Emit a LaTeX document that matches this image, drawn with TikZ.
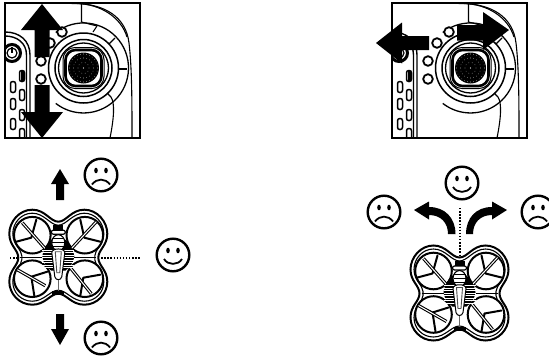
\documentclass[tikz,border=0pt]{standalone}
\usetikzlibrary{calc}
\tikzset{
  x=1pt,y=-1pt,
  ln/.style={line width=1.1pt,black},
  hole/.style={line width=1.8pt,black,fill=white},
  pill/.style={line width=1.5pt,black,rounded corners=2.2pt,fill=white},
  dotline/.style={line width=1.2pt,black,dash pattern=on 1.4pt off 1.7pt},
  face/.style={line width=2.4pt,black,fill=white},
  blk/.style={fill=black,draw=none},
  single/.style={line width=2pt,line cap=round},
  dbl/.style={line width=3.2pt},
  dblin/.style={line width=1pt,white},
  pics/remote/.style={code={
    \begin{scope}
    \clip (0,0) rectangle (135,135);
    % outer casing
    \draw[ln] (38,0) -- (70,0.5) .. controls (100,1) and (121,14) .. (124,40) .. controls (127,65) and (127,100) .. (127,135);
    \draw[ln] (72,0.5) .. controls (95,1) and (116,14) .. (122,34);
    \draw[ln] (76.5,0) -- (76.5,19) -- (92,23);
    % big arc
    \draw[line width=1.3pt] (50.8,29.5) arc[start angle=-128,end angle=128,radius=45];
    \draw[ln] (92,23) -- (88,29);
    \draw[ln] (110,35) -- (104,41);
    \draw[ln] (122,66) -- (113,66);
    \draw[ln] (106,94) -- (102,90);
    \draw[ln] (106,94) .. controls (110,100) and (109,115) .. (105,135);
    % rings
    \draw[line width=1.5pt] (78.5,65) circle[radius=35];
    \draw[line width=1.5pt] (78.5,65) circle[radius=28.5];
    \draw[line width=1.3pt] (78.5,65) circle[radius=25];
    \draw[line width=1pt,fill=white,rounded corners=12pt] (58,44.5) rectangle (99,85.5);
    \draw[line width=2.6pt,fill=white,rounded corners=10pt] (60.5,47) rectangle (96.5,83);
    \fill[black] (78.5,65) circle[radius=15.5];
    \foreach \r/\n in {14/28,10/20,5.5/10}{
      \foreach \k in {1,...,\n}{\fill[white] ($(78.5,65)+({360*\k/\n}:\r)$) circle[radius=0.3];}}
    \fill[white] (78.5,65) circle[radius=0.6];
    % holes
    \draw[hole] (57,29) circle[radius=4.8];
    \draw[hole] (45,40) circle[radius=4.8];
    \draw[hole] (36,58) circle[radius=4.8];
    \draw[hole] (36,76) circle[radius=4.8];
    % power button and panel
    \draw[line width=1.4pt] (0,29) .. controls (15,29) and (25,38) .. (25,52) -- (25,135);
    \draw[line width=1.4pt] (0,33) .. controls (12,33) and (21.5,40) .. (21.5,52) -- (21.5,135);
    \draw[line width=3pt,fill=white] (7,50) circle[radius=8.5];
    \draw[line width=1.2pt] (7,50) circle[radius=5];
    \draw[line width=1.6pt] (7,44) -- (7,50);
    % slots
    \foreach \x/\y in {17/73,17/92,17/112,17/131,8/84,8/101,8/121}{
      \draw[pill] (\x-2.5,\y-5.5) rectangle (\x+2.5,\y+5.5);}
    \fill[black] (15.5,68) rectangle (18.5,78);
    \end{scope}
    \draw[line width=1.1pt] (0,0) rectangle (135,135);
  }},
  pics/frown/.style={code={
    \draw[face] (0,0) circle[radius=16.3];
    \fill (-5,-4.5) ellipse[x radius=1.8,y radius=2.8];
    \fill (5,-4.5) ellipse[x radius=1.8,y radius=2.8];
    \draw[line width=1.8pt] (-9,9.5) .. controls (-4,3) and (4,3) .. (9,9.5);
  }},
  pics/smile/.style={code={
    \draw[face] (0,0) circle[radius=16.3];
    \fill (-5,-4.5) ellipse[x radius=1.8,y radius=2.8];
    \fill (5,-4.5) ellipse[x radius=1.8,y radius=2.8];
    \draw[line width=1.8pt] (-9,4) .. controls (-5,10.5) and (5,10.5) .. (9,4);
  }},
  pics/quad/.style={code={
    \draw[line width=2pt,fill=white]
      (0,-36) .. controls (-8,-36) and (-13,-48) .. (-26,-48) .. controls (-39,-48) and (-49,-36) .. (-49,-24)
      .. controls (-49,-12) and (-40,-8) .. (-40,0) .. controls (-40,8) and (-49,12) .. (-49,24)
      .. controls (-49,36) and (-39,47) .. (-26,47) .. controls (-13,47) and (-8,36) .. (0,36)
      .. controls (8,36) and (13,47) .. (26,47) .. controls (39,47) and (49,36) .. (49,24)
      .. controls (49,12) and (40,8) .. (40,0) .. controls (40,-8) and (49,-12) .. (49,-24)
      .. controls (49,-36) and (39,-48) .. (26,-48) .. controls (13,-48) and (8,-36) .. (0,-36) -- cycle;
    \draw[line width=1.1pt]
      (0,-32.5) .. controls (-8,-32.5) and (-14,-44.5) .. (-26,-44.5) .. controls (-37,-44.5) and (-45.5,-35) .. (-45.5,-24)
      .. controls (-45.5,-13) and (-36.5,-8) .. (-36.5,-2) -- (-36.5,2) .. controls (-36.5,8) and (-45.5,13) .. (-45.5,24)
      .. controls (-45.5,35) and (-37,43.5) .. (-26,43.5) .. controls (-14,43.5) and (-8,32.5) .. (0,32.5)
      .. controls (8,32.5) and (14,43.5) .. (26,43.5) .. controls (37,43.5) and (45.5,35) .. (45.5,24)
      .. controls (45.5,13) and (36.5,8) .. (36.5,2) -- (36.5,-2) .. controls (36.5,-8) and (45.5,-13) .. (45.5,-24)
      .. controls (45.5,-35) and (37,-44.5) .. (26,-44.5) .. controls (14,-44.5) and (8,-32.5) .. (0,-32.5) -- cycle;
    % rotors
    \foreach \cx/\cy in {-26/-22.5,26.5/-22.5,-26/21,26.5/21}{
      \draw[line width=2pt,fill=white] (\cx,\cy) circle[radius=18.3];}
    % blades
    \draw[single] (-27,-20) -- (-22,-38) (-27,-20) -- (-42,-16);
    \draw[dbl] (-36,-35) -- (-13,-9);
    \draw[dblin] (-36,-35) -- (-13,-9);
    \draw[single] (26,-20) -- (22,-38) (26,-20) -- (42,-16);
    \draw[dbl] (38,-36) -- (13,-9);
    \draw[dblin] (38,-36) -- (13,-9);
    \draw[single] (-27,19) -- (-42,12) (-27,19) -- (-24,38) (-27,19) -- (-11,14);
    \draw[dbl] (-41,12) -- (-13,28);
    \draw[dblin] (-41,12) -- (-13,28);
    \draw[single] (25,20) -- (42,17) (25,20) -- (22,38);
    \draw[dbl] (12,10) -- (33,36);
    \draw[dblin] (12,10) -- (33,36);
    % cross line
    \draw[line width=1.2pt] (-38,0) -- (38,0);
    % body
    \fill[black] (-16,-1) .. controls (-15,-10) and (-9,-18) .. (0,-23) .. controls (9,-18) and (15,-10) .. (16,-1)
      .. controls (15,6) and (11,10) .. (7,13) -- (-7,13) .. controls (-11,10) and (-15,6) .. (-16,-1) -- cycle;
    \foreach \k in {-8,-5.5,...,11}{\draw[white,line width=0.3pt] (-16,\k) -- (16,\k);}
    \fill[black] (-5,-33) rectangle (5,-27);
    \draw[line width=1.2pt,fill=white,rounded corners=2pt] (-7,-27.5) rectangle (7,-23.5);
    \draw[line width=1.1pt,fill=white] (0,-15) ellipse[x radius=6.5,y radius=8];
    \draw[line width=0.5pt] (-6,-15) -- (6,-15) (-5.5,-11) -- (5.5,-11) (-6,-19) -- (6,-19);
    \draw[line width=1pt,fill=white] (-6.5,-5) .. controls (-6.5,-10) and (6.5,-10) .. (6.5,-5) -- (3.5,19) .. controls (2.5,23) and (-2.5,23) .. (-3.5,19) -- cycle;
    \draw[line width=0.9pt,black!70] (-3,-6) -- (3,-6) -- (1.5,15) -- (-1.5,15) -- cycle;
    \draw[line width=1.2pt,black!60] (0,22) -- (0,33);
    \fill[black] (-6,33) rectangle (6,37);
  }}
}
\begin{document}
\begin{tikzpicture}
\useasboundingbox (0,0) rectangle (549,359);
\pic at (5,3) {remote};
\pic at (392,3) {remote};
% big arrows, left box
\fill[blk] (42,4) -- (63,30) -- (49.5,30) -- (49.5,57) -- (34.5,57) -- (34.5,30) -- (21,30) -- cycle;
\fill[blk] (42,138) -- (63,112) -- (49.5,112) -- (49.5,85) -- (34.5,85) -- (34.5,112) -- (21,112) -- cycle;
% big arrows, right box
\fill[blk] (376,43) -- (402,22.5) -- (402,36) -- (429,36) -- (429,50) -- (402,50) -- (402,63.5) -- cycle;
\fill[blk] (509,30) -- (483,12) -- (483,25) -- (457,25) -- (457,40.5) -- (483,40.5) -- (483,50) -- cycle;
% small arrows
\fill[blk] (60,169) -- (69,184) -- (64,184) -- (64,200) -- (56,200) -- (56,184) -- (51,184) -- cycle;
\fill[blk] (60,345) -- (69,329) -- (64,329) -- (64,314) -- (56,314) -- (56,329) -- (51,329) -- cycle;
% curved arrows
\fill[blk] (414,210) -- (429,201.5) -- (429,207) .. controls (445,207) and (455.5,218) .. (455.5,234) -- (448,234)
  .. controls (448,223) and (441,215) .. (429,215) -- (429,219.5) -- cycle;
\fill[blk] (507,210) -- (492,201.5) -- (492,207) .. controls (476,207) and (466,218) .. (466,234) -- (473,234)
  .. controls (473,223) and (480,215) .. (492,215) -- (492,219.5) -- cycle;
% quads
\pic at (58.3,257.7) {quad};
\pic at (459.5,293.5) {quad};
% dotted lines
\coordinate (la) at (10,258); \coordinate (lb) at (19,258);
\coordinate (lc) at (98,258); \coordinate (ld) at (140,258);
\draw[dotline] (la) -- (lb);
\draw[dotline] (lc) -- (ld);
\coordinate (ra) at (460,208); \coordinate (rb) at (460,257);
\draw[dotline] (ra) -- (rb);
% faces
\pic at (101,175) {frown};
\pic at (173,255) {smile};
\pic at (101,338) {frown};
\pic at (462,183) {smile};
\pic at (384,212) {frown};
\pic at (538,212) {frown};
\end{tikzpicture}
\end{document}
